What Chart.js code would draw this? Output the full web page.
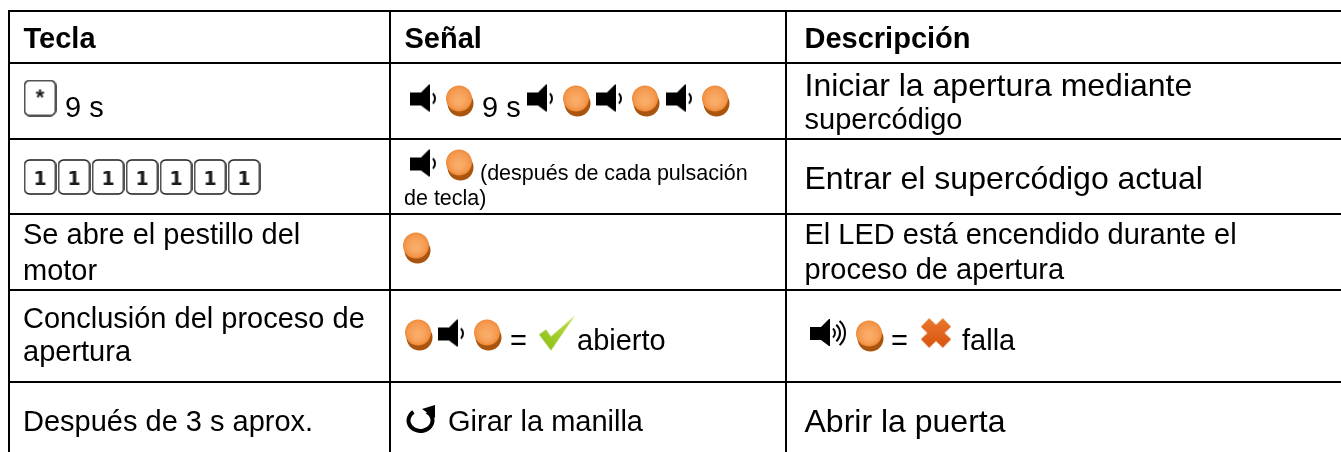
<!DOCTYPE html>
<html>
<head>
<meta charset="utf-8">
<style>
	html, body { margin: 0; padding: 0; background: #fff; }
	#wrap { width: 1341px; height: 452px; }
</style>
<script src="https://cdn.jsdelivr.net/npm/chart.js@4"></script>
</head>
<body>
<div id="wrap"><canvas id="table-chart"></canvas></div>
<script>
// table rules, in axis units
const columnEdges = [9, 390, 786];
const rowEdges = [11, 63, 139, 214, 290, 382];
// texts: [string, x, baseline y, font size]
const headerTexts = [['Tecla', 23.5, 48], ['Señal', 404.5, 48], ['Descripción', 804.5, 48]];
const cellTexts = [
	['9 s', 65, 117, 29],
	['9 s', 482, 117, 29],
	['Iniciar la apertura mediante', 804.5, 96, 32],
	['supercódigo', 804.5, 129, 29],
	['(después de cada pulsación', 480, 180, 21.5],
	['de tecla)', 404, 205, 21.5],
	['Entrar el supercódigo actual', 804.5, 189, 32],
	['Se abre el pestillo del', 23, 244, 29],
	['motor', 23, 280, 29],
	['El LED está encendido durante el', 804.5, 244, 29],
	['proceso de apertura', 804.5, 279, 29],
	['Conclusión del proceso de', 23, 328, 29],
	['apertura', 23, 361, 29],
	['=', 510, 350, 29],
	['abierto', 577, 350, 29],
	['=', 891, 350, 29],
	['falla', 962, 350, 29],
	['Después de 3 s aprox.', 23, 431, 29],
	['Girar la manilla', 448, 431, 29],
	['Abrir la puerta', 804.5, 432, 32]
];
// icon centres
const ledPoints = [[460, 101], [577, 101], [646, 101], [716, 101], [460, 165], [417, 248], [419, 335], [488, 335], [870, 336]];
const speakerPoints = [[423, 98], [540, 98], [609, 98], [679, 98], [423, 163], [451, 333]];
const loudPoints = [[828, 333]];
const checkPoints = [[557, 333]];
const crossPoints = [[936, 333]];
const turnPoints = [[421, 419]];
const starKeys = [[40, 98]];
const oneKeys = [[40, 177], [74, 177], [108, 177], [142, 177], [176, 177], [210, 177], [244, 177]];

function makeIcon (w, h, draw) {
	const c = document.createElement('canvas');
	c.width = w;
	c.height = h;
	draw(c.getContext('2d'));
	return c;
}

const ledIcon = makeIcon(28, 32, g => {
	g.fillStyle = '#a9540f';
	g.beginPath();
	g.arc(14.5, 18.5, 13, 0, Math.PI * 2);
	g.fill();
	const grad = g.createRadialGradient(13, 16, 3, 13, 13, 13);
	grad.addColorStop(0, '#f9ac68');
	grad.addColorStop(0.7, '#f59a50');
	grad.addColorStop(1, '#ee8a38');
	g.fillStyle = grad;
	g.beginPath();
	g.arc(13, 13.5, 13, 0, Math.PI * 2);
	g.fill();
});

function drawSpeakerBody (g) {
	g.fillStyle = '#000';
	g.beginPath();
	g.moveTo(1, 9);
	g.lineTo(12, 9);
	g.lineTo(20, 1);
	g.lineTo(21, 1);
	g.lineTo(21, 28);
	g.lineTo(20, 28);
	g.lineTo(12, 22);
	g.lineTo(1, 22);
	g.closePath();
	g.fill();
}

const speakerIcon = makeIcon(28, 29, g => {
	drawSpeakerBody(g);
	g.strokeStyle = '#000';
	g.lineWidth = 2;
	g.beginPath();
	g.arc(19, 15, 7, -0.8, 0.8);
	g.stroke();
});

const loudIcon = makeIcon(38, 30, g => {
	drawSpeakerBody(g);
	g.strokeStyle = '#000';
	g.lineWidth = 2;
	[6, 11, 16].forEach(r => {
		g.beginPath();
		g.arc(20, 15, r, -0.85, 0.85);
		g.stroke();
	});
});

const checkIcon = makeIcon(38, 37, g => {
	const grad = g.createLinearGradient(0, 36, 36, 0);
	grad.addColorStop(0, '#86bd12');
	grad.addColorStop(1, '#c2e04c');
	g.fillStyle = grad;
	g.beginPath();
	g.moveTo(1, 20);
	g.lineTo(8, 15);
	g.lineTo(13, 22);
	g.lineTo(37, 1);
	g.lineTo(13, 36);
	g.closePath();
	g.fill();
});

const crossIcon = makeIcon(34, 33, g => {
	const grad = g.createLinearGradient(0, 0, 0, 33);
	grad.addColorStop(0, '#ea7a30');
	grad.addColorStop(1, '#d8520a');
	g.strokeStyle = grad;
	g.lineWidth = 12;
	g.beginPath();
	g.moveTo(6, 6);
	g.lineTo(28, 27);
	g.moveTo(28, 6);
	g.lineTo(6, 27);
	g.stroke();
});

const turnIcon = makeIcon(30, 28, g => {
	g.strokeStyle = '#000';
	g.fillStyle = '#000';
	g.lineWidth = 4;
	g.beginPath();
	g.ellipse(14.5, 15.5, 12, 10.5, 0, -1.0, -2.2);
	g.stroke();
	g.beginPath();
	g.moveTo(29, 0);
	g.lineTo(29, 13);
	g.lineTo(16, 4);
	g.closePath();
	g.fill();
});

function makeKey (label, w, h) {
	return makeIcon(w, h, g => {
		g.strokeStyle = '#1a1a1a';
		g.lineWidth = 1.5;
		g.beginPath();
		g.roundRect(1, 1, w - 2, h - 2, 5);
		g.stroke();
		g.fillStyle = '#1a1a1a';
		g.textAlign = 'center';
		if (label == '*') {
			g.font = 'bold 22px "Liberation Sans"';
			g.fillText(label, w / 2, 25);
		} else {
			g.font = 'bold 19px "DejaVu Sans"';
			g.fillText(label, w / 2, 26);
		}
	});
}

// vertical rules run from the top rule down, horizontal ones to the right edge
const ruleSet = (a, b) => ({ data: [a, b], showLine: true, borderColor: '#000', borderWidth: 2, pointRadius: 0, pointHoverRadius: 0 });
const columnRules = columnEdges.map(x => ruleSet({ x: x, y: 10 }, { x: x, y: 452 }));
const rowRules = rowEdges.map(y => ruleSet({ x: 8, y: y }, { x: 1341, y: y }));

const toXY = list => list.map(p => ({ x: p[0], y: p[1] }));
const iconSet = (list, icon) => ({ data: toXY(list), pointStyle: icon, pointRadius: 10, pointHoverRadius: 10, showLine: false });

// draws the table texts through the chart scales
const tableText = {
	id: 'tableText',
	afterDatasetsDraw (chart) {
		const g = chart.ctx;
		const sx = chart.scales.x;
		const sy = chart.scales.y;
		g.save();
		g.fillStyle = '#000';
		g.textBaseline = 'alphabetic';
		g.font = 'bold 29px "Liberation Sans"';
		headerTexts.forEach(t => {
			g.fillText(t[0], sx.getPixelForValue(t[1]), sy.getPixelForValue(t[2]));
		});
		cellTexts.forEach(t => {
			g.font = t[3] + 'px "Liberation Sans"';
			g.fillText(t[0], sx.getPixelForValue(t[1]), sy.getPixelForValue(t[2]));
		});
		g.restore();
	}
};

new Chart(document.getElementById('table-chart'), {
	type: 'scatter',
	data: {
		datasets: [
			...columnRules,
			...rowRules,
			iconSet(ledPoints, ledIcon),
			iconSet(speakerPoints, speakerIcon),
			iconSet(loudPoints, loudIcon),
			iconSet(checkPoints, checkIcon),
			iconSet(crossPoints, crossIcon),
			iconSet(turnPoints, turnIcon),
			iconSet(starKeys, makeKey('*', 33, 37)),
			iconSet(oneKeys, makeKey('1', 33, 36))
		]
	},
	options: {
		responsive: true,
		maintainAspectRatio: false,
		animation: false,
		layout: { padding: 0, autoPadding: false },
		events: [],
		plugins: { legend: { display: false }, tooltip: { enabled: false } },
		scales: {
			x: { type: 'linear', display: false, min: 0, max: 1341 },
			y: { type: 'linear', display: false, min: 0, max: 452, reverse: true }
		}
	},
	plugins: [tableText]
});
</script>
</body>
</html>
